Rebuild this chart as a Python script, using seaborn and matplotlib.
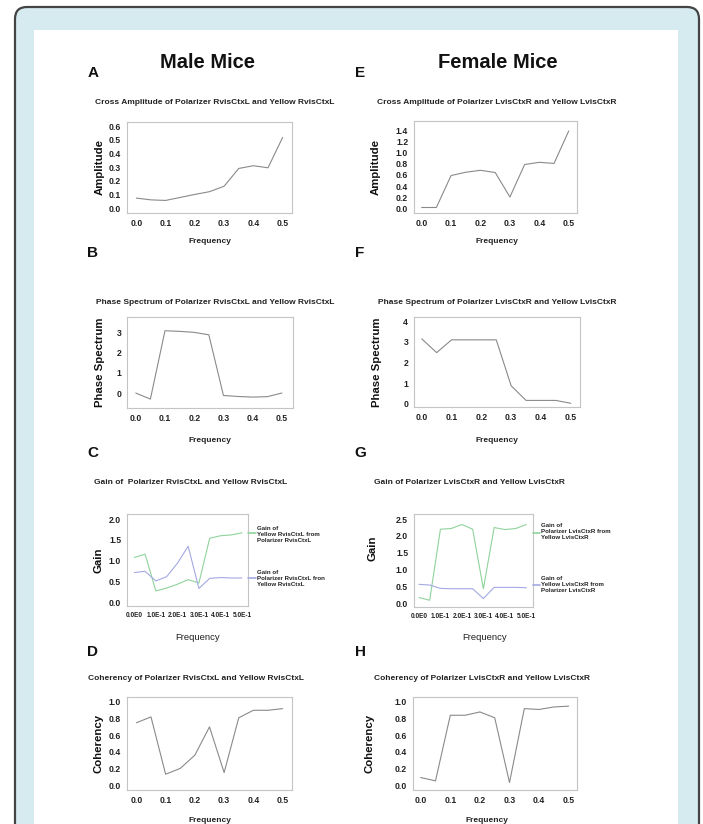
import numpy as np
import pandas as pd
import matplotlib
matplotlib.use("Agg")
import matplotlib.pyplot as plt
import seaborn as sns
from matplotlib.patches import FancyBboxPatch, Rectangle
from matplotlib.transforms import IdentityTransform

# ---- datos ----
freq = [0.0, 0.05, 0.1, 0.15, 0.2, 0.25, 0.3, 0.35, 0.4, 0.45, 0.5]

male_amp = [0.073, 0.06, 0.056, 0.078, 0.10, 0.12, 0.16, 0.29, 0.31, 0.295, 0.517]
female_amp = [0.01, 0.01, 0.59, 0.65, 0.685, 0.645, 0.20, 0.79, 0.83, 0.81, 1.40]

male_phase = [0.0, -0.3, 3.08, 3.05, 3.0, 2.88, -0.12, -0.17, -0.2, -0.18, 0.0]
female_phase = [3.15, 2.48, 3.1, 3.1, 3.1, 3.1, 0.87, 0.16, 0.16, 0.16, 0.02]

male_gain_yellow = [1.08, 1.16, 0.28, 0.35, 0.44, 0.55, 0.47, 1.54, 1.6, 1.62, 1.67]
male_gain_polar = [0.72, 0.75, 0.52, 0.62, 0.94, 1.35, 0.34, 0.58, 0.6, 0.59, 0.59]
female_gain_polar = [0.18, 0.1, 2.2, 2.22, 2.34, 2.2, 0.44, 2.25, 2.19, 2.22, 2.34]
female_gain_yellow = [0.57, 0.55, 0.45, 0.44, 0.44, 0.44, 0.15, 0.48, 0.48, 0.48, 0.47]

male_coh = [0.75, 0.82, 0.13, 0.2, 0.36, 0.70, 0.15, 0.81, 0.90, 0.90, 0.92]
female_coh = [0.09, 0.05, 0.84, 0.84, 0.88, 0.81, 0.03, 0.92, 0.91, 0.94, 0.95]

freq_ticks = [0.0, 0.1, 0.2, 0.3, 0.4, 0.5]
freq_labels = ["0.0", "0.1", "0.2", "0.3", "0.4", "0.5"]
gain_freq_labels = ["0.0E0", "1.0E-1", "2.0E-1", "3.0E-1", "4.0E-1", "5.0E-1"]

sns.set_style("white")
plt.rcParams['font.family'] = ['Liberation Sans', 'DejaVu Sans']

W, H = 703, 824
fig = plt.figure(figsize=(W / 100, H / 100), dpi=100)
fig.patch.set_facecolor("white")

# marco azul claro con borde redondeado y panel blanco
marco = FancyBboxPatch((15, -20), 684, H - 7 + 20, boxstyle="round,pad=0,rounding_size=12",
                       transform=IdentityTransform(), facecolor="#d6ebf0",
                       edgecolor="#444444", linewidth=1.6, zorder=-10)
fig.add_artist(marco)
panel = Rectangle((34, -10), 644, H - 30 + 10, transform=IdentityTransform(),
                  facecolor="white", edgecolor="none", zorder=-9)
fig.add_artist(panel)


def fx(x):
    return x / W


def fy(y):
    return 1 - y / H


LINE = "#8a8a8a"
GREEN = "#8fd39c"
BLUE = "#a3a9e3"


def hacer_panel(caja, series, xlim, ylim, yticks, ylabels, ylabel, ylab_px,
                xlab_px, gain=False):
    l, t, r, b = caja
    ax = fig.add_axes([fx(l), fy(b), (r - l) / W, (b - t) / H])
    for vals, col in series:
        sns.lineplot(x=freq, y=vals, ax=ax, color=col, linewidth=0.8)
    ax.set_xlim(*xlim)
    ax.set_ylim(*ylim)
    ax.set_xticks(freq_ticks)
    ax.set_xticklabels(gain_freq_labels if gain else freq_labels,
                       fontweight="bold", fontsize=4.7 if gain else 6.2)
    ax.set_yticks(yticks)
    ax.set_yticklabels(ylabels, fontweight="bold", fontsize=6.2)
    ax.tick_params(axis="both", length=2.2, width=0.6, color="#444444", pad=2,
                   labelcolor="#222222")
    for s in ax.spines.values():
        s.set_color("#c4c4c4")
        s.set_linewidth(0.8)
    ax.set_ylabel(ylabel, fontsize=8.2, fontweight="bold", color="#111111")
    ax.yaxis.set_label_coords((ylab_px[0] - l) / (r - l), (b - ylab_px[1]) / (b - t))
    if gain:
        ax.set_xlabel("Frequency", fontsize=6.8, color="#222222")
    else:
        ax.set_xlabel("Frequency", fontsize=6, fontweight="bold", color="#222222")
    ax.xaxis.set_label_coords((xlab_px[0] - l) / (r - l), (b - xlab_px[1]) / (b - t))
    return ax


# A
hacer_panel((127, 122, 292, 213), [(male_amp, LINE)], (-0.032, 0.532), (-0.036, 0.63),
            [0, 0.1, 0.2, 0.3, 0.4, 0.5, 0.6],
            ["0.0", "0.1", "0.2", "0.3", "0.4", "0.5", "0.6"],
            "Amplitude", (105, 167), (210, 238))
# E
hacer_panel((414, 121, 577, 213), [(female_amp, LINE)], (-0.026, 0.528), (-0.09, 1.58),
            [0, 0.2, 0.4, 0.6, 0.8, 1.0, 1.2, 1.4],
            ["0.0", "0.2", "0.4", "0.6", "0.8", "1.0", "1.2", "1.4"],
            "Amplitude", (381, 167), (497, 238))
# B
hacer_panel((127, 317, 293, 408), [(male_phase, LINE)], (-0.03, 0.538), (-0.74, 3.76),
            [0, 1, 2, 3], ["0", "1", "2", "3"],
            "Phase Spectrum", (105, 362), (210, 437))
# F
hacer_panel((414, 317, 580, 407), [(female_phase, LINE)], (-0.026, 0.531), (-0.16, 4.21),
            [0, 1, 2, 3, 4], ["0", "1", "2", "3", "4"],
            "Phase Spectrum", (382, 362), (497, 437))
# C
axc = hacer_panel((127, 514, 248, 606), [(male_gain_yellow, GREEN), (male_gain_polar, BLUE)],
                  (-0.034, 0.528), (-0.08, 2.12), [0, 0.5, 1.0, 1.5, 2.0],
                  ["0.0", "0.5", "1.0", "1.5", "2.0"],
                  "Gain", (104, 560), (198, 633), gain=True)
# G
axg = hacer_panel((414, 514, 533, 607), [(female_gain_polar, GREEN), (female_gain_yellow, BLUE)],
                  (-0.023, 0.531), (-0.1, 2.65), [0, 0.5, 1.0, 1.5, 2.0, 2.5],
                  ["0.0", "0.5", "1.0", "1.5", "2.0", "2.5"],
                  "Gain", (378, 548), (485, 633), gain=True)
# D
hacer_panel((127, 697, 292, 790), [(male_coh, LINE)], (-0.032, 0.532), (-0.06, 1.06),
            [0, 0.2, 0.4, 0.6, 0.8, 1.0], ["0.0", "0.2", "0.4", "0.6", "0.8", "1.0"],
            "Coherency", (104, 743), (210, 817))
# H
hacer_panel((413, 697, 577, 790), [(female_coh, LINE)], (-0.026, 0.528), (-0.06, 1.06),
            [0, 0.2, 0.4, 0.6, 0.8, 1.0], ["0.0", "0.2", "0.4", "0.6", "0.8", "1.0"],
            "Coherency", (375, 743), (487, 817))

# leyendas de ganancia (claves a la derecha)
def clave(x0, x1, y, col):
    fig.add_artist(plt.Line2D([fx(x0), fx(x1)], [fy(y), fy(y)], color=col, linewidth=1.2))


def nota(x, y, txt):
    fig.text(fx(x), fy(y), txt, fontsize=4.4, fontweight="bold", color="#222222",
             ha="left", va="top", linespacing=1.25)


clave(248, 256, 533, GREEN)
nota(257, 526, "Gain of\nYellow RvisCtxL from\nPolarizer RvisCtxL")
clave(248, 256, 578, BLUE)
nota(257, 570, "Gain of\nPolarizer RvisCtxL fron\nYellow RvisCtxL")
clave(533, 540, 533, GREEN)
nota(541, 523, "Gain of\nPolarizer LvisCtxR from\nYellow LvisCtxR")
clave(533, 540, 585, BLUE)
nota(541, 576, "Gain of\nYellow LvisCtxR from\nPolarizer LvisCtxR")

# titulos
titulos = [
    (215, 103, "Cross Amplitude of Polarizer RvisCtxL and Yellow RvisCtxL"),
    (497, 103, "Cross Amplitude of Polarizer LvisCtxR and Yellow LvisCtxR"),
    (215, 302, "Phase Spectrum of Polarizer RvisCtxL and Yellow RvisCtxL"),
    (497, 302, "Phase Spectrum of Polarizer LvisCtxR and Yellow LvisCtxR"),
    (191, 483, "Gain of  Polarizer RvisCtxL and Yellow RvisCtxL"),
    (469, 483, "Gain of Polarizer LvisCtxR and Yellow LvisCtxR"),
    (196, 678, "Coherency of Polarizer RvisCtxL and Yellow RvisCtxL"),
    (482, 678, "Coherency of Polarizer LvisCtxR and Yellow LvisCtxR"),
]
for x, y, t in titulos:
    fig.text(fx(x), fy(y), t, fontsize=6.0, fontweight="bold", color="#222222",
             ha="center", va="center")

letras = [(93, 73, "A"), (360, 73, "E"), (93, 253, "B"), (360, 253, "F"),
          (93, 453, "C"), (360, 453, "G"), (93, 652, "D"), (360, 652, "H")]
for x, y, t in letras:
    fig.text(fx(x), fy(y), t, fontsize=11, fontweight="bold", color="#111111",
             ha="center", va="center")

fig.text(fx(207), fy(63), "Male Mice", fontsize=14.5, fontweight="bold",
         color="#111111", ha="center", va="center")
fig.text(fx(498), fy(63), "Female Mice", fontsize=14.5, fontweight="bold",
         color="#111111", ha="center", va="center")

fig.savefig("out.png", dpi=100)
